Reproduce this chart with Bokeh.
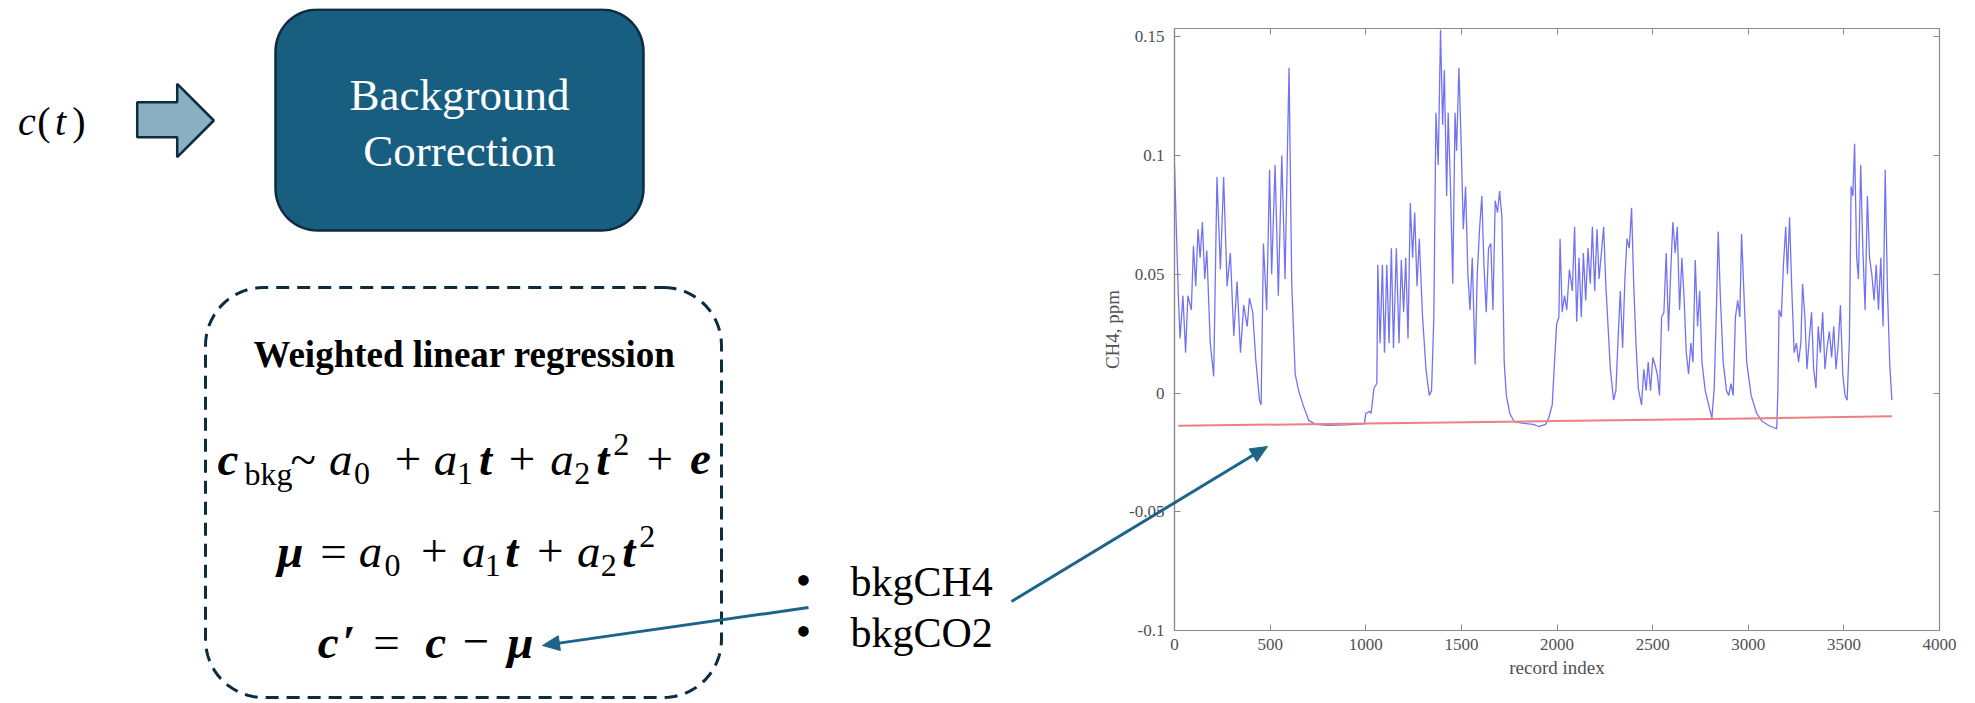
import numpy as np
from bokeh.plotting import figure
from bokeh.models import Range1d, LinearAxis, FixedTicker
from bokeh.embed import file_html
from bokeh.resources import INLINE
from bokeh.core.properties import value

# ---------------- data ----------------
record_index = [
    0, 20, 29, 44, 58, 70, 88, 99, 111, 123,
    134, 146, 158, 169, 187, 205, 222, 240, 257, 275,
    292, 310, 327, 345, 362, 380, 392, 409, 424, 444,
    453, 465, 482, 497, 508, 526, 543, 561, 578, 590,
    599, 613, 631, 649, 672, 701, 736, 800, 900, 993,
    1000, 1020, 1028, 1043, 1058, 1063, 1075, 1087, 1098, 1110,
    1122, 1134, 1145, 1160, 1174, 1186, 1198, 1209, 1221, 1233,
    1245, 1256, 1268, 1280, 1297, 1315, 1332, 1344, 1356, 1367,
    1379, 1391, 1402, 1411, 1423, 1431, 1443, 1455, 1467, 1475,
    1487, 1499, 1510, 1522, 1534, 1545, 1557, 1572, 1583, 1595,
    1607, 1618, 1630, 1642, 1654, 1665, 1677, 1689, 1700, 1712,
    1724, 1735, 1753, 1776, 1817, 1876, 1905, 1940, 1957, 1975,
    1987, 1998, 2010, 2016, 2027, 2039, 2051, 2065, 2080, 2092,
    2103, 2115, 2127, 2138, 2150, 2162, 2174, 2185, 2197, 2209,
    2220, 2232, 2244, 2255, 2267, 2279, 2296, 2308, 2320, 2331,
    2343, 2355, 2366, 2378, 2390, 2401, 2413, 2425, 2442, 2454,
    2466, 2477, 2489, 2501, 2512, 2524, 2536, 2547, 2559, 2571,
    2583, 2594, 2606, 2618, 2629, 2641, 2653, 2664, 2676, 2688,
    2700, 2711, 2723, 2735, 2746, 2758, 2775, 2793, 2810, 2822,
    2834, 2843, 2854, 2869, 2886, 2898, 2910, 2921, 2933, 2945,
    2956, 2965, 2977, 2992, 3015, 3044, 3073, 3117, 3149, 3155,
    3161, 3173, 3184, 3196, 3205, 3216, 3228, 3240, 3252, 3263,
    3275, 3284, 3296, 3307, 3319, 3331, 3342, 3354, 3366, 3377,
    3389, 3401, 3412, 3424, 3436, 3447, 3459, 3471, 3482, 3494,
    3506, 3517, 3529, 3538, 3547, 3556, 3567, 3576, 3588, 3599,
    3611, 3623, 3634, 3646, 3658, 3669, 3681, 3693, 3705, 3716,
    3728, 3740, 3751,
]
ch4_ppm = [
    0.096, 0.041, 0.023, 0.041, 0.017, 0.041, 0.035, 0.062, 0.045, 0.069,
    0.057, 0.072, 0.048, 0.060, 0.021, 0.007, 0.091, 0.052, 0.091, 0.045,
    0.059, 0.024, 0.047, 0.017, 0.037, 0.028, 0.040, 0.034, 0.015, -0.003,
    -0.005, 0.063, 0.035, 0.094, 0.050, 0.096, 0.041, 0.100, 0.048, 0.100,
    0.137, 0.046, 0.008, 0.001, -0.005, -0.0114, -0.0132, -0.0136, -0.0134, -0.0130,
    -0.0086, -0.0077, -0.0086, 0.002, 0.004, 0.054, 0.021, 0.054, 0.017, 0.054,
    0.021, 0.061, 0.019, 0.061, 0.021, 0.056, 0.034, 0.057, 0.023, 0.080,
    0.057, 0.076, 0.045, 0.065, 0.032, 0.010, -0.001, 0.001, 0.032, 0.118,
    0.096, 0.153, 0.113, 0.136, 0.083, 0.118, 0.087, 0.046, 0.118, 0.102,
    0.137, 0.105, 0.069, 0.087, 0.050, 0.035, 0.057, 0.012, 0.050, 0.069,
    0.083, 0.054, 0.034, 0.061, 0.063, 0.035, 0.081, 0.076, 0.085, 0.074,
    0.013, -0.001, -0.0086, -0.012, -0.0127, -0.0132, -0.0141, -0.0132, -0.0105, -0.005,
    0.013, 0.029, 0.032, 0.065, 0.034, 0.041, 0.035, 0.052, 0.043, 0.070,
    0.030, 0.057, 0.032, 0.059, 0.039, 0.061, 0.046, 0.070, 0.043, 0.069,
    0.048, 0.059, 0.070, 0.046, 0.028, 0.010, -0.003, 0.001, 0.024, 0.043,
    0.019, 0.048, 0.065, 0.061, 0.078, 0.046, 0.021, 0.002, -0.005, 0.010,
    0.001, 0.013, 0.001, 0.015, 0.012, 0.008, -0.001, 0.032, 0.034, 0.059,
    0.026, 0.050, 0.072, 0.059, 0.070, 0.035, 0.057, 0.041, 0.017, 0.008,
    0.021, 0.013, 0.056, 0.028, 0.043, 0.013, 0.001, -0.005, -0.0105, 0.002,
    0.037, 0.068, 0.041, 0.013, 0.001, -0.001, 0.004, -0.001, 0.032, 0.039,
    0.032, 0.067, 0.043, 0.013, -0.001, -0.0086, -0.012, -0.0141, -0.015, 0.001,
    0.035, 0.032, 0.054, 0.070, 0.050, 0.074, 0.043, 0.017, 0.021, 0.013,
    0.021, 0.046, 0.032, 0.010, 0.023, 0.034, 0.010, 0.002, 0.028, 0.017,
    0.034, 0.010, 0.019, 0.026, 0.015, 0.028, 0.010, 0.021, 0.037, 0.008,
    -0.001, -0.003, 0.023, 0.087, 0.083, 0.105, 0.057, 0.048, 0.096, 0.061,
    0.035, 0.083, 0.057, 0.050, 0.039, 0.054, 0.035, 0.057, 0.028, 0.094,
    0.043, 0.012, -0.003,
]
bkg_index = [20, 1000, 2000, 3000, 3751]
bkg_ch4 = [-0.0138, -0.0128, -0.0118, -0.0107, -0.0098]

x_ticks = [0, 500, 1000, 1500, 2000, 2500, 3000, 3500, 4000]
y_ticks = [-0.1, -0.05, 0, 0.05, 0.1, 0.15]
y_tick_labels = ["-0.1", "-0.05", "0", "0.05", "0.1", "0.15"]
x_limits = (0, 4000)
y_limits = (-0.1, 0.1535)
x_label = "record index"
y_label = "CH4, ppm"

box_lines = ["Background", "Correction"]
regression_title = "Weighted linear regression"
bullet_items = ["bkgCH4", "bkgCO2"]

# ---------------- styles / geometry ----------------
SERIF = "Liberation Serif"
NAVY = "#0d2d3f"
BOX_FILL = "#185e80"
BLOCK_FILL = "#8aafc2"
ARROW_C = "#1c6489"
AX_C = "#8a8a8a"
LBL_C = "#505050"

PAGE_W, PAGE_H = 1959, 687
FR_L, FR_R, FR_T, FR_B = 1182, 1947, 36, 638   # chart frame, page pixels

# ================= chart figure =================
p = figure(width=PAGE_W, height=PAGE_H,
           x_range=Range1d(*x_limits), y_range=Range1d(*y_limits),
           output_backend="svg", toolbar_location=None,
           min_border_left=FR_L - 8, min_border_right=PAGE_W + 8 - FR_R,
           min_border_top=FR_T - 8, min_border_bottom=PAGE_H + 8 - FR_B)
p.xgrid.visible = False
p.ygrid.visible = False
p.outline_line_color = AX_C
p.outline_line_width = 1.2
p.background_fill_color = "white"
p.border_fill_color = "white"

xa = p.below[0]
ya = p.left[0]
xa.ticker = FixedTicker(ticks=x_ticks)
ya.ticker = FixedTicker(ticks=y_ticks)
ya.major_label_overrides = {t: l for t, l in zip(y_ticks, y_tick_labels)}
xa.axis_label = x_label
ya.axis_label = y_label
for ax in (xa, ya):
    ax.axis_line_color = AX_C
    ax.axis_line_width = 1.2
    ax.major_tick_line_color = AX_C
    ax.major_tick_in = 6
    ax.major_tick_out = 0
    ax.minor_tick_line_color = None
    ax.major_label_text_font = SERIF
    ax.major_label_text_font_size = "17px"
    ax.major_label_text_color = LBL_C
    ax.axis_label_text_font = SERIF
    ax.axis_label_text_font_size = "19px"
    ax.axis_label_text_font_style = "normal"
    ax.axis_label_text_color = LBL_C
xa.major_label_standoff = 8
xa.axis_label_standoff = 4
ya.major_label_standoff = 10
ya.axis_label_standoff = 3

top_ax = LinearAxis(ticker=FixedTicker(ticks=x_ticks),
                    major_label_overrides={t: "" for t in x_ticks})
right_ax = LinearAxis(ticker=FixedTicker(ticks=y_ticks),
                      major_label_overrides={t: "" for t in y_ticks})
for ax in (top_ax, right_ax):
    ax.axis_line_color = None
    ax.major_tick_line_color = AX_C
    ax.major_tick_in = 6
    ax.major_tick_out = 0
    ax.minor_tick_line_color = None
    ax.major_label_standoff = 0
    ax.major_label_text_font_size = "1px"
p.add_layout(top_ax, "above")
p.add_layout(right_ax, "right")

p.line(record_index, ch4_ppm, line_color="#5a5af0", line_width=1.3, line_alpha=0.85)
p.line(bkg_index, bkg_ch4, line_color="#f07f7f", line_width=2)

# ================= diagram overlay (page-pixel coordinates) =================
OV_H = 695
d = figure(width=PAGE_W, height=OV_H, x_range=Range1d(8, 8 + PAGE_W),
           y_range=Range1d(8 + OV_H, 8), output_backend="svg",
           toolbar_location=None, x_axis_location=None, y_axis_location=None,
           min_border=0, min_border_left=0, min_border_right=0,
           min_border_top=0, min_border_bottom=0,
           styles={"position": "absolute", "left": "8px", "top": "8px"})
d.outline_line_color = None
d.xgrid.visible = False
d.ygrid.visible = False
d.background_fill_color = None
d.border_fill_color = None

BASE_FIX = 0.33   # rendered text sits lower than the requested baseline by ~1/3 em


def put(x, y, s, size, style="normal", color="black", align="center"):
    d.text(x=[x], y=[y - BASE_FIX * size], text=[s], text_font=value(SERIF),
           text_font_size=f"{size}px", text_font_style=style,
           text_color=color, text_align=align, text_baseline="alphabetic")


def rrect(x0, y0, x1, y1, r, n=18):
    xs, ys = [], []
    corners = [(x1 - r, y0 + r, -90, 0), (x1 - r, y1 - r, 0, 90),
               (x0 + r, y1 - r, 90, 180), (x0 + r, y0 + r, 180, 270)]
    for cx, cy, a0, a1 in corners:
        for a in np.linspace(np.radians(a0), np.radians(a1), n):
            xs.append(cx + r * np.cos(a))
            ys.append(cy + r * np.sin(a))
    xs.append(xs[0])
    ys.append(ys[0])
    return xs, ys


def arrow(x0, y0, x1, y1, head_len=17, head_half=7.5, width=3):
    dd = np.hypot(x1 - x0, y1 - y0)
    ux, uy = (x1 - x0) / dd, (y1 - y0) / dd
    bx, by = x1 - ux * head_len, y1 - uy * head_len
    d.line([x0, bx + ux * 2], [y0, by + uy * 2], line_color=ARROW_C, line_width=width)
    d.patch([x1, bx - uy * head_half, bx + uy * head_half],
            [y1, by + ux * head_half, by - ux * head_half],
            fill_color=ARROW_C, line_color=ARROW_C, line_width=1)


# c(t)
for s, cx, st in [("c", 26.5, "italic"), ("(", 43.5, "normal"),
                  ("t", 60, "italic"), (")", 78.5, "normal")]:
    put(cx, 134, s, 40, st)

# block arrow
d.patch([136.7, 176.7, 176.7, 213.3, 176.7, 176.7, 136.7],
        [101.7, 101.7, 83.3, 120, 156.7, 136.7, 136.7],
        fill_color=BLOCK_FILL, line_color=NAVY, line_width=2.5)

# Background Correction box
rx, ry = rrect(275, 9, 643, 230, 42)
d.patch(rx, ry, fill_color=BOX_FILL, line_color=NAVY, line_width=2.5)
put(459, 109, box_lines[0], 45, color="white")
put(459, 165, box_lines[1], 45, color="white")

# dashed regression box
dx, dy = rrect(205, 287, 721, 697, 58)
d.line(dx, dy, line_color=NAVY, line_width=3, line_dash="13 8")
put(464, 366, regression_title, 37, "bold")

MAIN, SMALL = 47, 32
SUB, SUP = 10, -19


def eq(baseline, pieces, left_old, left_new, stretch):
    for s, cx, kind in pieces:
        x = left_new + (cx - left_old) * stretch
        if kind == "bi":
            put(x, baseline, s, MAIN, "bold italic")
        elif kind == "i":
            put(x, baseline, s, MAIN, "italic")
        elif kind == "n":
            put(x, baseline, s, MAIN, "normal")
        elif kind == "sub":
            put(x, baseline + SUB, s, SMALL, "normal")
        elif kind == "sup":
            put(x, baseline + SUP, s, SMALL, "normal")


eq(474, [("c", 246.5, "bi"), ("bkg", 284, "sub"), ("~", 316, "n"),
         ("a", 350.5, "i"), ("0", 370, "sub"), ("+", 412.5, "n"),
         ("a", 447, "i"), ("1", 465, "sub"), ("t", 484, "bi"), ("+", 517.5, "n"),
         ("a", 554.5, "i"), ("2", 573, "sub"), ("t", 592, "bi"), ("2", 609, "sup"),
         ("+", 644.5, "n"), ("e", 682, "bi")], 236, 216, 1.085)
eq(566, [("\u03bc", 289, "bi"), ("=", 330, "n"), ("a", 365, "i"), ("0", 386, "sub"),
         ("+", 425.5, "n"), ("a", 463, "i"), ("1", 481, "sub"), ("t", 499, "bi"),
         ("+", 535.5, "n"), ("a", 572, "i"), ("2", 591, "sub"), ("t", 610, "bi"),
         ("2", 627.5, "sup")], 276, 276, 1.055)
eq(657, [("c", 343.5, "bi"), ("\u2032", 360.5, "bi"), ("=", 392, "n"),
         ("c", 433, "bi"), ("\u2212", 466.5, "n"), ("\u03bc", 503.5, "bi")],
   332, 314, 1.2)

# bullets
for i, item in enumerate(bullet_items):
    base = 595 + 51 * i
    put(803, base, "\u2022", 44)
    put(850, base, item, 42, align="left")

# arrows
arrow(808, 607, 542, 645)
arrow(1011, 601, 1267, 446)

open("out.html", "w").write(file_html([p, d], INLINE))
